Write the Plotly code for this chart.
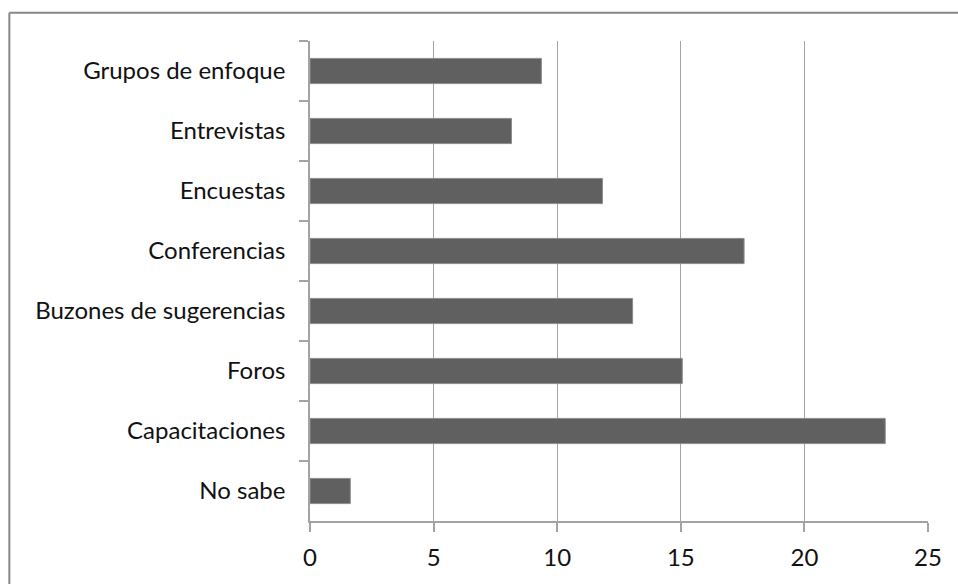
import plotly.graph_objects as go

# Survey mechanisms (top to bottom) and their values
categories = [
    "Grupos de enfoque",
    "Entrevistas",
    "Encuestas",
    "Conferencias",
    "Buzones de sugerencias",
    "Foros",
    "Capacitaciones",
    "No sabe",
]
values = [9.36, 8.15, 11.83, 17.56, 13.05, 15.06, 23.27, 1.63]
x_ticks = [0, 5, 10, 15, 20, 25]

FONT = "Lato, 'Open Sans', sans-serif"
GRID = "#a3a3a3"

fig = go.Figure(
    go.Bar(
        y=categories,
        x=values,
        orientation="h",
        marker=dict(color="#606060", line=dict(color="#8c8c8c", width=1)),
        hoverinfo="x+y",
    )
)

fig.update_layout(
    width=958,
    height=584,
    margin=dict(l=310, r=30, t=41, b=63),
    paper_bgcolor="white",
    plot_bgcolor="white",
    showlegend=False,
    bargap=0.58,
    font=dict(family=FONT, size=24, color="#111111"),
    xaxis=dict(
        range=[0, 25],
        tickvals=x_ticks,
        showgrid=True,
        gridcolor=GRID,
        gridwidth=1.2,
        zeroline=False,
        showline=True,
        linecolor=GRID,
        linewidth=1.5,
        ticks="outside",
        ticklen=9,
        tickcolor=GRID,
        tickwidth=1.5,
        ticklabelstandoff=5,
        tickfont=dict(size=24),
        fixedrange=True,
    ),
    yaxis=dict(
        type="category",
        autorange="reversed",
        showgrid=False,
        zeroline=False,
        showline=True,
        linecolor=GRID,
        linewidth=1.5,
        ticks="outside",
        tickson="boundaries",
        ticklen=9,
        tickcolor=GRID,
        tickwidth=1.5,
        ticklabelstandoff=18,
        tickfont=dict(size=24),
        fixedrange=True,
    ),
    shapes=[
        # chart frame: left and top edges
        dict(type="line", xref="paper", yref="paper",
             x0=-0.4865, x1=-0.4865, y0=1.0587, y1=-0.2,
             line=dict(color="#878787", width=2)),
        dict(type="line", xref="paper", yref="paper",
             x0=-0.4865, x1=1.1, y0=1.0587, y1=1.0587,
             line=dict(color="#878787", width=2)),
    ],
)

fig.write_html("out.html")
